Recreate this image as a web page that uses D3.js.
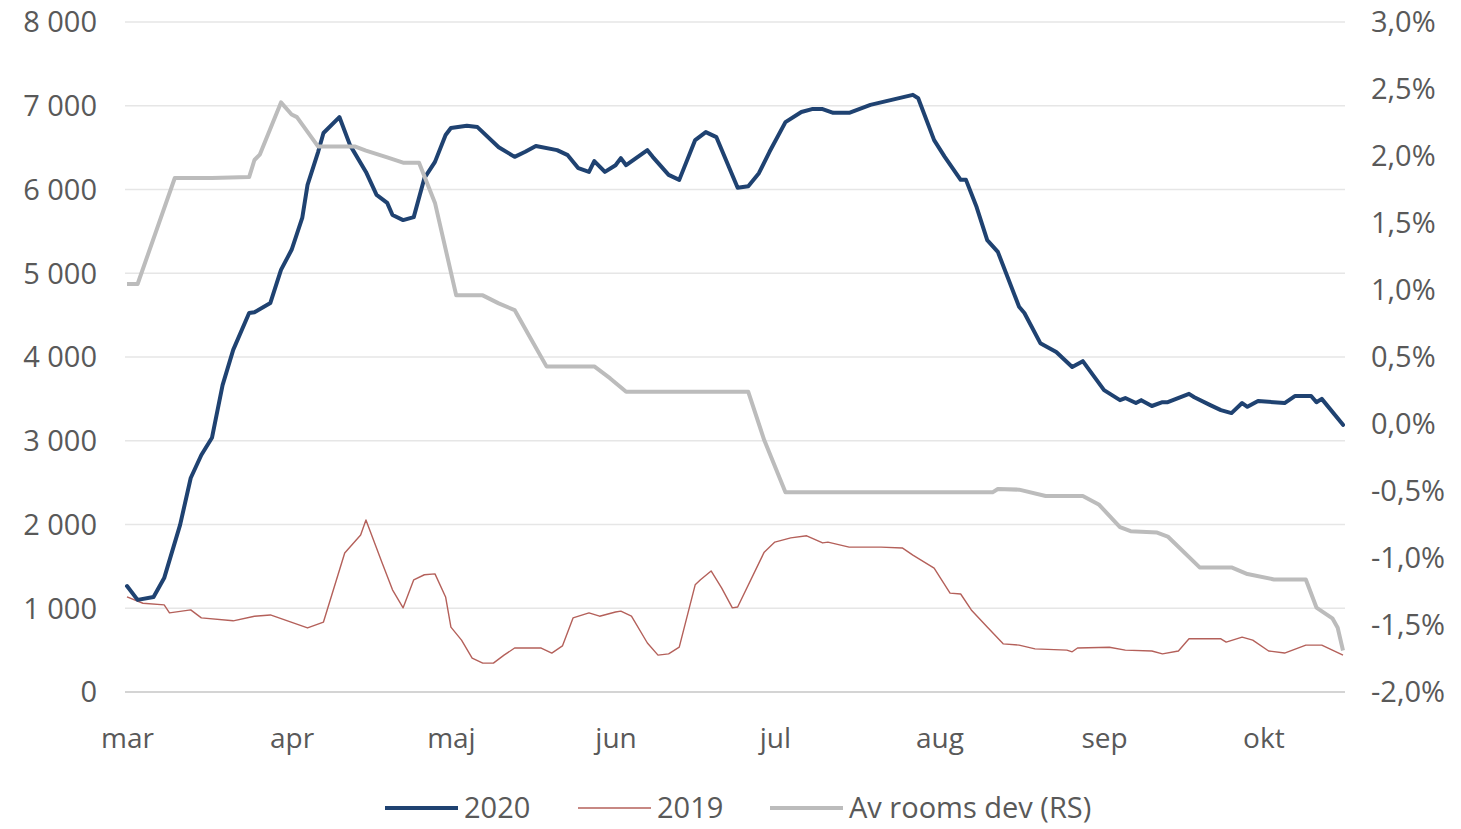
<!DOCTYPE html>
<html>
<head>
<meta charset="utf-8">
<script src="https://cdn.jsdelivr.net/npm/d3@7/dist/d3.min.js"></script>
<style>
  html, body { margin: 0; padding: 0; background: #ffffff; }
  svg { display: block; }
  text { font-family: "Open Sans", "Noto Sans", sans-serif; fill: #595959; }
</style>
</head>
<body>
<svg id="chart" width="1461" height="829"></svg>
<script>
// Days are counted from 1 March.
const seasonStart = new Date(2020, 2, 1);
const seasonEnd = new Date(2020, 9, 16);

// 2020 — number of rooms (left scale)
const days2020 = [0, 2, 5, 7, 10, 12, 14, 16, 18, 20, 23, 24, 27, 29, 31, 33, 34, 36, 37, 40,
  42, 45, 47, 49, 50, 52, 54, 56, 58, 60, 61, 64, 66, 70, 73, 75, 77, 81, 83, 85,
  87, 88, 90, 92, 93, 94, 98, 99, 102, 104, 107, 109, 111, 115, 117, 119, 121, 124, 127, 129,
  131, 133, 136, 140, 144, 148, 149, 152, 154, 157, 158, 160, 162, 164, 168, 169, 172, 175, 178, 180,
  184, 187, 188, 190, 191, 193, 195, 196, 200, 201, 204, 206, 208, 210, 211, 213, 218, 220, 223, 224,
  225, 229];
const values2020 = [1265, 1100, 1135, 1360, 1995, 2555, 2830, 3035, 3665, 4085, 4525, 4535, 4645, 5040, 5280, 5660, 6055, 6450, 6675, 6865,
  6530, 6210, 5935, 5840, 5695, 5635, 5670, 6135, 6330, 6650, 6735, 6760, 6745, 6505, 6390, 6450, 6520, 6470, 6410, 6255,
  6210, 6340, 6210, 6290, 6375, 6290, 6470, 6390, 6175, 6115, 6590, 6685, 6625, 6020, 6040, 6195, 6450, 6805, 6925, 6960,
  6960, 6915, 6915, 7010, 7070, 7130, 7090, 6590, 6390, 6115, 6115, 5790, 5395, 5255, 4600, 4525, 4165, 4060, 3880, 3950,
  3605, 3485, 3510, 3450, 3485, 3415, 3460, 3460, 3560, 3520, 3425, 3365, 3330, 3450, 3405, 3475, 3450, 3535, 3535, 3460,
  3500, 3190];

// 2019 — number of rooms (left scale)
const days2019 = [0, 3, 7, 8, 12, 14, 20, 24, 27, 34, 37, 41, 44, 45, 48, 50, 52, 54, 56, 58,
  60, 61, 63, 65, 67, 69, 71, 73, 78, 80, 82, 84, 87, 89, 92, 93, 95, 98, 100, 102,
  104, 107, 108, 110, 112, 114, 115, 120, 122, 125, 128, 131, 132, 136, 142, 146, 148, 152, 155, 157,
  159, 162, 165, 168, 171, 177, 178, 179, 185, 188, 193, 195, 198, 200, 206, 207, 210, 212, 215, 218,
  222, 225, 229];
const values2019 = [1135, 1060, 1040, 945, 980, 885, 850, 905, 920, 765, 835, 1660, 1875, 2055, 1550, 1220, 1005, 1340, 1400, 1410,
  1135, 775, 620, 405, 345, 345, 440, 525, 525, 465, 550, 885, 945, 905, 955, 965, 905, 585, 440, 455,
  535, 1280, 1340, 1445, 1240, 1005, 1015, 1670, 1790, 1840, 1865, 1780, 1790, 1730, 1730, 1720, 1635, 1480, 1180, 1170,
  980, 775, 575, 560, 515, 500, 480, 525, 535, 500, 490, 455, 490, 635, 635, 595, 655, 620, 490, 465,
  560, 560, 440];

// Average rooms deviation, % (right scale)
const daysDev = [0, 2, 9, 16, 23, 24, 25, 29, 31, 32, 36, 43, 45, 49, 52, 55, 58, 62, 67, 70,
  73, 76, 79, 88, 91, 94, 117, 120, 124, 163, 164, 168, 173, 180, 183, 187, 189, 194, 196, 202,
  208, 211, 216, 222, 224, 227, 228, 229];
const valuesDev = [1.045, 1.045, 1.836, 1.836, 1.843, 1.97, 2.01, 2.40, 2.31, 2.29, 2.07, 2.07, 2.04, 1.99, 1.95, 1.95, 1.65, 0.96, 0.96, 0.90,
  0.85, 0.64, 0.43, 0.43, 0.34, 0.24, 0.24, -0.12, -0.51, -0.51, -0.485, -0.49, -0.537, -0.537, -0.60, -0.77, -0.80, -0.81, -0.84, -1.07,
  -1.07, -1.12, -1.16, -1.16, -1.37, -1.45, -1.52, -1.69];

const leftTicks = [0, 1000, 2000, 3000, 4000, 5000, 6000, 7000, 8000];
const rightTicks = [-2.0, -1.5, -1.0, -0.5, 0.0, 0.5, 1.0, 1.5, 2.0, 2.5, 3.0];
const monthLabels = ["mar", "apr", "maj", "jun", "jul", "aug", "sep", "okt"];

const seriesInfo = [
  { name: "2020", color: "#1f4271", width: 4 },
  { name: "2019", color: "#b4605a", width: 1.4 },
  { name: "Av rooms dev (RS)", color: "#bcbcbc", width: 4 }
];

const svg = d3.select("#chart");
const plot = { left: 125, right: 1345, top: 22, bottom: 692 };

const x = d3.scaleTime().domain([seasonStart, seasonEnd]).range([127, 1343]);
const yLeft = d3.scaleLinear().domain([0, 8000]).range([plot.bottom, plot.top]);
const yRight = d3.scaleLinear().domain([-2, 3]).range([plot.bottom, plot.top]);

const dateOf = d => d3.timeDay.offset(seasonStart, d);
const zip = (ds, vs) => ds.map((d, i) => ({ date: dateOf(d), value: vs[i] }));

// Horizontal gridlines
svg.append("g")
  .selectAll("line")
  .data(leftTicks)
  .join("line")
  .attr("x1", plot.left).attr("x2", plot.right)
  .attr("y1", d => yLeft(d)).attr("y2", d => yLeft(d))
  .attr("stroke", d => d === 0 ? "#d4d4d4" : "#e6e6e6")
  .attr("stroke-width", d => d === 0 ? 2 : 1.5);

// Left axis
const fmtThousands = d => d3.format(",")(d).replace(/,/g, "\u2009");
const leftAxis = d3.axisLeft(yLeft).tickValues(leftTicks).tickSize(0).tickPadding(0)
  .tickFormat(d => d === 0 ? "0" : (d / 1000) + " 000");
svg.append("g")
  .attr("transform", "translate(97,0)")
  .call(leftAxis)
  .call(g => g.select(".domain").remove())
  .selectAll("text")
  .style("font-size", "29px")
  .attr("dy", "0.34em")
  .attr("fill", "#595959");

// Right axis
const rightAxis = d3.axisRight(yRight).tickValues(rightTicks).tickSize(0).tickPadding(0)
  .tickFormat(d => d3.format(".1f")(d).replace(".", ",").replace("\u2212", "-") + "%");
svg.append("g")
  .attr("transform", "translate(1371,0)")
  .call(rightAxis)
  .call(g => g.select(".domain").remove())
  .selectAll("text")
  .style("font-size", "29px")
  .attr("dy", "0.34em")
  .attr("fill", "#595959");

// Month labels along the bottom
const monthStarts = monthLabels.map((m, i) => new Date(2020, 2 + i, 1));
const xAxis = d3.axisBottom(x).tickValues(monthStarts).tickSize(0).tickPadding(0)
  .tickFormat((d, i) => monthLabels[i]);
svg.append("g")
  .attr("transform", "translate(0,738)")
  .call(xAxis)
  .call(g => g.select(".domain").remove())
  .selectAll("text")
  .style("font-size", "28px")
  .attr("y", 0)
  .attr("dy", "0.34em")
  .attr("fill", "#595959");

// Lines
const lineLeft = d3.line().x(d => x(d.date)).y(d => yLeft(d.value));
const lineRight = d3.line().x(d => x(d.date)).y(d => yRight(d.value));

svg.append("path")
  .datum(zip(days2019, values2019))
  .attr("fill", "none")
  .attr("stroke", seriesInfo[1].color)
  .attr("stroke-width", seriesInfo[1].width)
  .attr("stroke-linejoin", "round")
  .attr("d", lineLeft);

svg.append("path")
  .datum(zip(days2020, values2020))
  .attr("fill", "none")
  .attr("stroke", seriesInfo[0].color)
  .attr("stroke-width", seriesInfo[0].width)
  .attr("stroke-linejoin", "round")
  .attr("stroke-linecap", "round")
  .attr("d", lineLeft);

svg.append("path")
  .datum(zip(daysDev, valuesDev))
  .attr("fill", "none")
  .attr("stroke", seriesInfo[2].color)
  .attr("stroke-width", seriesInfo[2].width)
  .attr("stroke-linejoin", "round")
  .attr("d", lineRight);

// Legend
const legendX = [385, 578, 770];
const legend = svg.append("g").attr("transform", "translate(0,808)");
seriesInfo.forEach((s, i) => {
  legend.append("line")
    .attr("x1", legendX[i]).attr("x2", legendX[i] + 73)
    .attr("y1", 0).attr("y2", 0)
    .attr("stroke", s.color).attr("stroke-width", s.width);
  legend.append("text")
    .attr("x", legendX[i] + 79).attr("y", 0)
    .attr("dy", "0.36em")
    .style("font-size", "29px")
    .text(s.name);
});
</script>
</body>
</html>
